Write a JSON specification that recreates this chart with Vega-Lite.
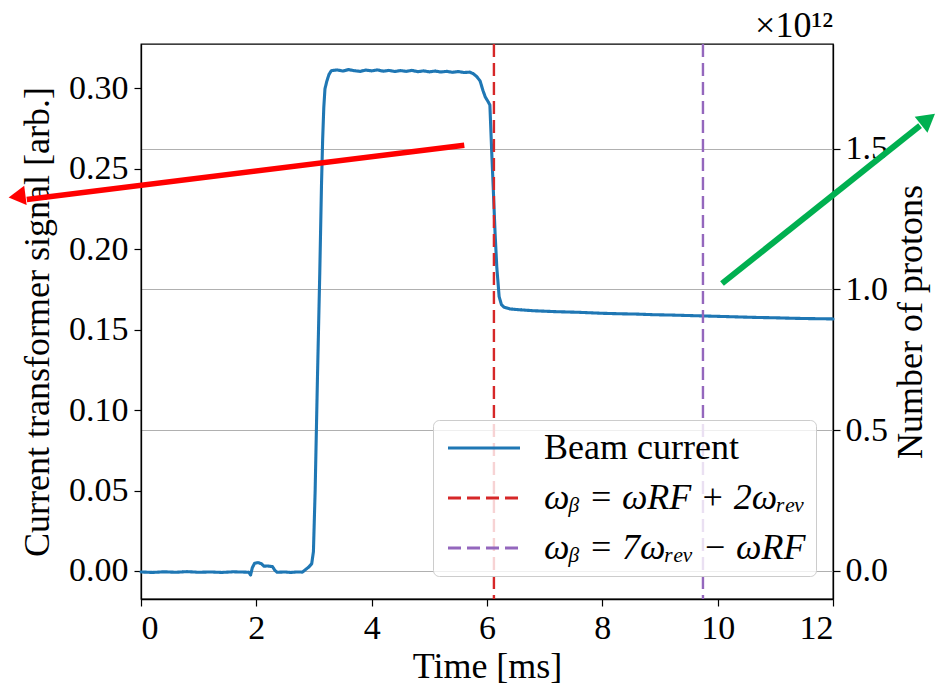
{
  "$schema": "https://vega.github.io/schema/vega-lite/v6.json",
  "width": 692,
  "height": 555,
  "autosize": {"type": "none"},
  "padding": {"left": 141, "top": 44, "right": 103, "bottom": 89},
  "background": "white",
  "config": {
    "font": "Liberation Serif",
    "view": {"stroke": "black", "strokeWidth": 1.3},
    "axis": {
      "domainColor": "black",
      "domainWidth": 1.3,
      "tickColor": "black",
      "tickWidth": 1.2,
      "tickSize": 7,
      "labelFont": "Liberation Serif",
      "labelFontSize": 34,
      "labelColor": "black",
      "titleFont": "Liberation Serif",
      "titleFontSize": 36,
      "titleFontWeight": "normal",
      "titleColor": "black",
      "grid": false
    },
    "legend": {
      "labelFont": "Liberation Serif",
      "labelFontSize": 36,
      "labelColor": "black"
    }
  },
  "title": {
    "text": "×10¹²",
    "anchor": "end",
    "frame": "group",
    "font": "Liberation Serif",
    "fontSize": 36,
    "fontWeight": "normal",
    "color": "black",
    "offset": -2
  },
  "layer": [
    {
      "layer": [
        {
          "data": {
            "values": [
              {"t": 0, "s": -0.0006, "series": "Beam current"},
              {"t": 0.2, "s": -0.0009, "series": "Beam current"},
              {"t": 0.4, "s": -0.0005, "series": "Beam current"},
              {"t": 0.6, "s": -0.0008, "series": "Beam current"},
              {"t": 0.8, "s": -0.0004, "series": "Beam current"},
              {"t": 1.0, "s": -0.0008, "series": "Beam current"},
              {"t": 1.2, "s": -0.0006, "series": "Beam current"},
              {"t": 1.4, "s": -0.0009, "series": "Beam current"},
              {"t": 1.6, "s": -0.0005, "series": "Beam current"},
              {"t": 1.8, "s": -0.0007, "series": "Beam current"},
              {"t": 1.87, "s": -0.0008, "series": "Beam current"},
              {"t": 1.9, "s": -0.0025, "series": "Beam current"},
              {"t": 1.93, "s": 0.002, "series": "Beam current"},
              {"t": 1.97, "s": 0.0048, "series": "Beam current"},
              {"t": 2.03, "s": 0.0052, "series": "Beam current"},
              {"t": 2.09, "s": 0.0045, "series": "Beam current"},
              {"t": 2.13, "s": 0.003, "series": "Beam current"},
              {"t": 2.2, "s": 0.0031, "series": "Beam current"},
              {"t": 2.28, "s": 0.0027, "series": "Beam current"},
              {"t": 2.32, "s": 0.0005, "series": "Beam current"},
              {"t": 2.36, "s": -0.0008, "series": "Beam current"},
              {"t": 2.5, "s": -0.0006, "series": "Beam current"},
              {"t": 2.6, "s": -0.0009, "series": "Beam current"},
              {"t": 2.7, "s": -0.0006, "series": "Beam current"},
              {"t": 2.8, "s": -0.0007, "series": "Beam current"},
              {"t": 2.85, "s": 0.0008, "series": "Beam current"},
              {"t": 2.91, "s": 0.0025, "series": "Beam current"},
              {"t": 2.96, "s": 0.0045, "series": "Beam current"},
              {"t": 2.99, "s": 0.012, "series": "Beam current"},
              {"t": 3.02, "s": 0.05, "series": "Beam current"},
              {"t": 3.06, "s": 0.12, "series": "Beam current"},
              {"t": 3.1, "s": 0.185, "series": "Beam current"},
              {"t": 3.13, "s": 0.24, "series": "Beam current"},
              {"t": 3.15, "s": 0.268, "series": "Beam current"},
              {"t": 3.17, "s": 0.288, "series": "Beam current"},
              {"t": 3.19, "s": 0.2995, "series": "Beam current"},
              {"t": 3.22, "s": 0.304, "series": "Beam current"},
              {"t": 3.26, "s": 0.3085, "series": "Beam current"},
              {"t": 3.3, "s": 0.3108, "series": "Beam current"},
              {"t": 3.4, "s": 0.3113, "series": "Beam current"},
              {"t": 3.5, "s": 0.3106, "series": "Beam current"},
              {"t": 3.6, "s": 0.3115, "series": "Beam current"},
              {"t": 3.7, "s": 0.3108, "series": "Beam current"},
              {"t": 3.8, "s": 0.3104, "series": "Beam current"},
              {"t": 3.9, "s": 0.3112, "series": "Beam current"},
              {"t": 4.0, "s": 0.3107, "series": "Beam current"},
              {"t": 4.1, "s": 0.3113, "series": "Beam current"},
              {"t": 4.2, "s": 0.3105, "series": "Beam current"},
              {"t": 4.3, "s": 0.311, "series": "Beam current"},
              {"t": 4.4, "s": 0.3103, "series": "Beam current"},
              {"t": 4.5, "s": 0.3109, "series": "Beam current"},
              {"t": 4.6, "s": 0.3104, "series": "Beam current"},
              {"t": 4.7, "s": 0.311, "series": "Beam current"},
              {"t": 4.8, "s": 0.3102, "series": "Beam current"},
              {"t": 4.9, "s": 0.3107, "series": "Beam current"},
              {"t": 5.0, "s": 0.3101, "series": "Beam current"},
              {"t": 5.1, "s": 0.3106, "series": "Beam current"},
              {"t": 5.2, "s": 0.31, "series": "Beam current"},
              {"t": 5.3, "s": 0.3104, "series": "Beam current"},
              {"t": 5.4, "s": 0.3098, "series": "Beam current"},
              {"t": 5.5, "s": 0.3103, "series": "Beam current"},
              {"t": 5.6, "s": 0.3097, "series": "Beam current"},
              {"t": 5.7, "s": 0.3099, "series": "Beam current"},
              {"t": 5.76, "s": 0.309, "series": "Beam current"},
              {"t": 5.82, "s": 0.3072, "series": "Beam current"},
              {"t": 5.88, "s": 0.3045, "series": "Beam current"},
              {"t": 5.93, "s": 0.2985, "series": "Beam current"},
              {"t": 5.97, "s": 0.2945, "series": "Beam current"},
              {"t": 6.02, "s": 0.2915, "series": "Beam current"},
              {"t": 6.05, "s": 0.2895, "series": "Beam current"},
              {"t": 6.08, "s": 0.262, "series": "Beam current"},
              {"t": 6.11, "s": 0.2365, "series": "Beam current"},
              {"t": 6.14, "s": 0.21, "series": "Beam current"},
              {"t": 6.17, "s": 0.1888, "series": "Beam current"},
              {"t": 6.21, "s": 0.1705, "series": "Beam current"},
              {"t": 6.25, "s": 0.1655, "series": "Beam current"},
              {"t": 6.3, "s": 0.1638, "series": "Beam current"},
              {"t": 6.4, "s": 0.1628, "series": "Beam current"},
              {"t": 6.6, "s": 0.1622, "series": "Beam current"},
              {"t": 6.8, "s": 0.1617, "series": "Beam current"},
              {"t": 7.0, "s": 0.1614, "series": "Beam current"},
              {"t": 7.2, "s": 0.1611, "series": "Beam current"},
              {"t": 7.4, "s": 0.1609, "series": "Beam current"},
              {"t": 7.6, "s": 0.1607, "series": "Beam current"},
              {"t": 7.8, "s": 0.1604, "series": "Beam current"},
              {"t": 8.0, "s": 0.1601, "series": "Beam current"},
              {"t": 8.3, "s": 0.1598, "series": "Beam current"},
              {"t": 8.6, "s": 0.1596, "series": "Beam current"},
              {"t": 8.9, "s": 0.1592, "series": "Beam current"},
              {"t": 9.2, "s": 0.159, "series": "Beam current"},
              {"t": 9.5, "s": 0.1587, "series": "Beam current"},
              {"t": 9.8, "s": 0.1584, "series": "Beam current"},
              {"t": 10.1, "s": 0.1581, "series": "Beam current"},
              {"t": 10.4, "s": 0.1578, "series": "Beam current"},
              {"t": 10.7, "s": 0.1575, "series": "Beam current"},
              {"t": 11.0, "s": 0.1573, "series": "Beam current"},
              {"t": 11.3, "s": 0.157, "series": "Beam current"},
              {"t": 11.6, "s": 0.1568, "series": "Beam current"},
              {"t": 12.0, "s": 0.1566, "series": "Beam current"}
            ]
          },
          "mark": {"type": "line", "strokeWidth": 3.1, "strokeCap": "round", "strokeJoin": "round"},
          "encoding": {
            "x": {
              "field": "t", "type": "quantitative",
              "scale": {"domain": [0, 12], "nice": false, "zero": false},
              "axis": {"title": "Time [ms]", "values": [0, 2, 4, 6, 8, 10, 12], "format": "d", "labelFont": "Liberation Serif", "labelPadding": 5, "titlePadding": 4}
            },
            "y": {
              "field": "s", "type": "quantitative",
              "scale": {"domain": [-0.0174, 0.3274], "nice": false, "zero": false},
              "axis": {"title": "Current transformer signal [arb.]", "values": [0, 0.05, 0.1, 0.15, 0.2, 0.25, 0.3], "format": ".2f", "labelFont": "Liberation Serif", "labelPadding": 6, "titlePadding": 12}
            },
            "color": {
              "field": "series", "type": "nominal",
              "scale": {
                "domain": ["Beam current", "ωᵦ = ωRF + 2ωᵣₑᵥ", "ωᵦ = 7ωᵣₑᵥ − ωRF"],
                "range": ["#1f77b4", "#d62728", "#9467bd"]
              },
              "legend": {
                "title": null,
                "orient": "none",
                "legendX": 292,
                "legendY": 376,
                "padding": 10,
                "rowPadding": 14,
                "fillColor": "rgba(255,255,255,0.8)",
                "strokeColor": "#cccccc",
                "cornerRadius": 6,
                "symbolType": "M-2.4,0H2.4",
                "symbolSize": 900,
                "symbolStrokeWidth": 3,
                "symbolOffset": 23,
                "labelOffset": 42,
                "labelLimit": 400,
                "encode": {"labels": {"update": {"fontStyle": {"signal": "datum.value === 'Beam current' ? 'normal' : 'italic'"}}}}
              }
            },
            "strokeDash": {
              "field": "series", "type": "nominal",
              "scale": {
                "domain": ["Beam current", "ωᵦ = ωRF + 2ωᵣₑᵥ", "ωᵦ = 7ωᵣₑᵥ − ωRF"],
                "range": [[1, 0], [13, 6], [13, 6]]
              },
              "legend": {
                "title": null,
                "orient": "none",
                "legendX": 292,
                "legendY": 376,
                "padding": 10,
                "rowPadding": 14,
                "fillColor": "rgba(255,255,255,0.8)",
                "strokeColor": "#cccccc",
                "cornerRadius": 6,
                "symbolType": "M-2.4,0H2.4",
                "symbolSize": 900,
                "symbolStrokeWidth": 3,
                "symbolOffset": 23,
                "labelOffset": 42,
                "labelLimit": 400,
                "encode": {"labels": {"update": {"fontStyle": {"signal": "datum.value === 'Beam current' ? 'normal' : 'italic'"}}}}
              }
            }
          }
        },
        {
          "data": {
            "values": [
              {"t": 6.12, "series": "ωᵦ = ωRF + 2ωᵣₑᵥ"},
              {"t": 9.745, "series": "ωᵦ = 7ωᵣₑᵥ − ωRF"}
            ]
          },
          "mark": {"type": "rule", "strokeWidth": 2.4},
          "encoding": {
            "x": {"field": "t", "type": "quantitative", "scale": {"domain": [0, 12], "nice": false, "zero": false}},
            "color": {"field": "series", "type": "nominal"},
            "strokeDash": {"field": "series", "type": "nominal"}
          }
        },
        {
          "data": {
            "values": [
              {"t": 5.606, "s": 0.2645, "t2": -1.98, "s2": 0.2308}
            ]
          },
          "mark": {"type": "rule", "color": "#ff0000", "strokeWidth": 5.5},
          "encoding": {
            "x": {"field": "t", "type": "quantitative", "scale": {"domain": [0, 12], "nice": false, "zero": false}},
            "y": {"field": "s", "type": "quantitative", "scale": {"domain": [-0.0174, 0.3274], "nice": false, "zero": false}},
            "x2": {"field": "t2"},
            "y2": {"field": "s2"}
          }
        },
        {
          "data": {
            "values": [
              {"t": -2.15, "s": 0.2327}
            ]
          },
          "mark": {"type": "point", "shape": "triangle-up", "filled": true, "color": "#ff0000", "opacity": 1, "size": 380, "angle": 262.9},
          "encoding": {
            "x": {"field": "t", "type": "quantitative", "scale": {"domain": [0, 12], "nice": false, "zero": false}},
            "y": {"field": "s", "type": "quantitative", "scale": {"domain": [-0.0174, 0.3274], "nice": false, "zero": false}}
          }
        },
        {
          "data": {
            "values": [
              {"t": 10.075, "s": 0.1786, "t2": 13.51, "s2": 0.2767}
            ]
          },
          "mark": {"type": "rule", "color": "#00b050", "strokeWidth": 6},
          "encoding": {
            "x": {"field": "t", "type": "quantitative", "scale": {"domain": [0, 12], "nice": false, "zero": false}},
            "y": {"field": "s", "type": "quantitative", "scale": {"domain": [-0.0174, 0.3274], "nice": false, "zero": false}},
            "x2": {"field": "t2"},
            "y2": {"field": "s2"}
          }
        },
        {
          "data": {
            "values": [
              {"t": 13.648, "s": 0.2807}
            ]
          },
          "mark": {"type": "point", "shape": "triangle-up", "filled": true, "color": "#00b050", "opacity": 1, "size": 420, "angle": 51.5},
          "encoding": {
            "x": {"field": "t", "type": "quantitative", "scale": {"domain": [0, 12], "nice": false, "zero": false}},
            "y": {"field": "s", "type": "quantitative", "scale": {"domain": [-0.0174, 0.3274], "nice": false, "zero": false}}
          }
        }
      ]
    },
    {
      "data": {"values": [{"p": 0}, {"p": 1.5}]},
      "mark": {"type": "rule", "opacity": 0},
      "encoding": {
        "y": {
          "field": "p", "type": "quantitative",
          "scale": {"domain": [-0.0996, 1.872], "nice": false, "zero": false},
          "axis": {
            "orient": "right",
            "title": "Number of protons",
            "titleAngle": 270,
            "titleBaseline": "top",
            "values": [0, 0.5, 1, 1.5],
            "format": ".1f",
            "labelFont": "Liberation Serif",
            "grid": true,
            "gridColor": "#b0b0b0",
            "gridWidth": 1.2,
            "labelPadding": 5,
            "titlePadding": 6
          }
        }
      }
    }
  ],
  "resolve": {"scale": {"y": "independent"}}
}
